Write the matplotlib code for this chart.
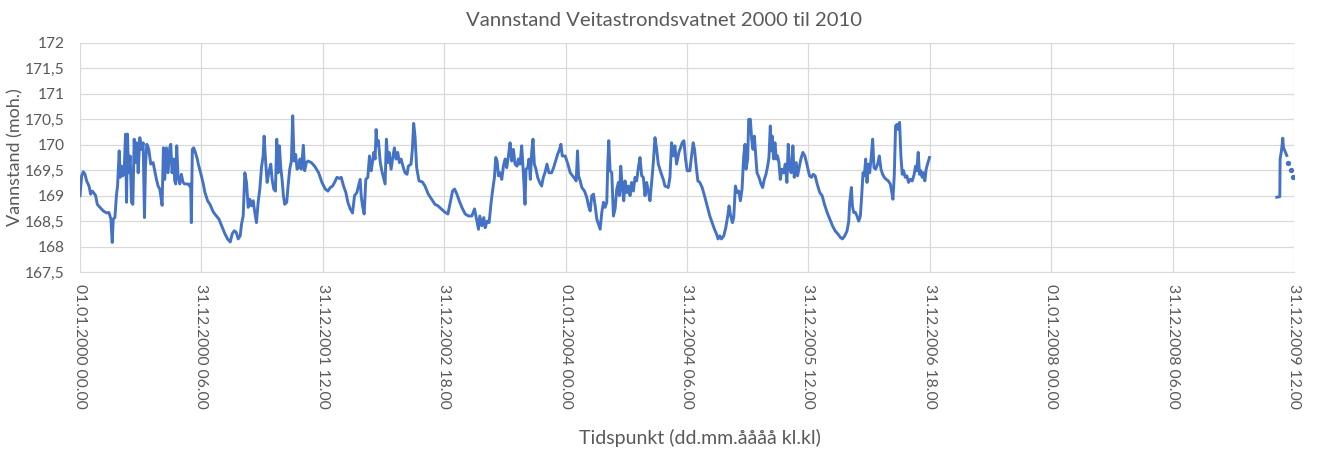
import numpy as np
import pandas as pd
import matplotlib
matplotlib.use("Agg")
import matplotlib.pyplot as plt
from matplotlib.ticker import FuncFormatter

# Vannstand Veitastrondsvatnet, dager etter 01.01.2000 og nivaa i moh.
days_2000_2006 = [
    0, 5, 10, 15, 20, 27, 32, 37, 42, 47, 52, 60, 70, 80, 87, 93, 97, 100, 105, 110,
    113, 118, 121, 125, 129, 133, 137, 140, 143, 146, 151, 155, 159, 163, 167, 171, 175, 180, 185, 190,
    194, 197, 201, 207, 213, 220, 225, 230, 235, 240, 243, 247, 251, 255, 260, 265, 270, 273, 277, 282,
    285, 288, 291, 295, 300, 305, 310, 315, 325, 330, 333, 335, 338, 342, 347, 353,
    356, 364, 371, 376, 384, 391, 401, 408, 418, 426, 436, 444, 452, 458, 464, 470, 476, 482, 486, 491,
    496, 501, 506, 511, 516, 521, 526, 531, 536, 541, 546, 551, 554, 558, 563, 568, 574, 578, 583, 588,
    592, 596, 600, 604, 608, 612, 616, 622, 626, 631, 636, 640, 644, 649, 653, 658, 662, 666, 672, 676,
    681, 686, 696, 706,
    718, 728, 738, 746, 753, 760, 766, 773, 780, 786, 793, 800, 806, 813, 820, 826, 833, 838, 843, 846,
    850, 855, 860, 866, 871, 876, 880, 884, 888, 891, 894, 898, 903, 908, 913, 918, 922, 926, 930, 936,
    941, 946, 951, 956, 961, 966, 973, 978, 984, 988, 996, 1000, 1004, 1008, 1013, 1020, 1030, 1038, 1048, 1058,
    1068,
    1077, 1087, 1097, 1107, 1114, 1121, 1127, 1134, 1141, 1149, 1159, 1169, 1179, 1187, 1193, 1199, 1203, 1209, 1215, 1219,
    1225, 1231, 1237, 1242, 1247, 1251, 1255, 1259, 1264, 1269, 1274, 1279, 1284, 1289, 1294, 1299, 1304, 1309, 1315, 1319,
    1324, 1329, 1334, 1339, 1342, 1347, 1351, 1355, 1359, 1363, 1367, 1372, 1377, 1383, 1389, 1394, 1399, 1405, 1411, 1419,
    1425, 1431, 1437, 1443, 1447, 1451,
    1455, 1460, 1468, 1475, 1482, 1488, 1493, 1497, 1500, 1505, 1510, 1518, 1525, 1530, 1535, 1540, 1545, 1550, 1555, 1560,
    1565, 1570, 1575, 1580, 1585, 1588, 1591, 1595, 1600, 1605, 1610, 1615, 1620, 1623, 1627, 1632, 1636, 1640, 1645, 1650,
    1655, 1660, 1665, 1670, 1675, 1680, 1685, 1690, 1695, 1700, 1705, 1710, 1715, 1720, 1725, 1730, 1735, 1740, 1748, 1755,
    1760, 1770, 1775, 1780, 1785, 1790, 1795, 1802,
    1812, 1817, 1822, 1827, 1835, 1840, 1845, 1849, 1854, 1859, 1865, 1872, 1879, 1887, 1895, 1902, 1909, 1915, 1920, 1925,
    1930, 1937, 1943, 1949, 1953, 1957, 1963, 1967, 1972, 1977, 1982, 1987, 1992, 1997, 2001, 2004, 2009, 2012, 2017, 2021,
    2025, 2029, 2033, 2037, 2043, 2049, 2054, 2059, 2064, 2069, 2073, 2077, 2080, 2083, 2087, 2091, 2095, 2099, 2103, 2107,
    2112, 2117, 2122, 2127, 2131, 2135, 2140, 2145, 2149, 2155, 2159, 2164, 2169, 2175, 2181, 2187, 2195,
    2201, 2206, 2212, 2218, 2226, 2233, 2240, 2248, 2256, 2264, 2272, 2280, 2288, 2294, 2301, 2308, 2313, 2316, 2321, 2324,
    2328, 2333, 2338, 2343, 2348, 2352, 2356, 2360, 2364, 2368, 2372, 2376, 2381, 2385, 2389, 2394, 2400, 2405, 2410, 2415,
    2420, 2426, 2432, 2438, 2442, 2446, 2450, 2454, 2458, 2462, 2466, 2470, 2474, 2478, 2483, 2488, 2493, 2498, 2504, 2510,
    2514, 2518, 2522, 2526, 2530, 2534, 2538, 2542, 2546, 2550, 2556,
]
level_2000_2006 = [
    169.00, 169.39, 169.47, 169.42, 169.29, 169.19, 169.03, 169.09, 169.05, 169.00, 168.83, 168.77, 168.70, 168.66, 168.67, 168.54, 168.08, 168.54, 168.57, 169.03,
    169.19, 169.88, 169.36, 169.58, 169.39, 169.49, 170.21, 168.87, 170.21, 169.45, 169.78, 168.87, 168.83, 170.11, 169.65, 170.04, 169.45, 170.14, 169.91, 170.04,
    168.57, 169.58, 170.01, 169.91, 169.62, 169.65, 169.49, 169.32, 169.19, 169.13, 169.00, 168.81, 169.94, 169.32, 169.94, 169.45, 169.94, 170.01, 169.45, 169.72,
    169.29, 169.23, 169.98, 169.39, 169.23, 169.42, 169.26, 169.23, 169.23, 169.19, 169.23, 168.47, 169.91, 169.94, 169.85, 169.72,
    169.62, 169.42, 169.23, 169.06, 168.90, 168.83, 168.68, 168.62, 168.54, 168.41, 168.25, 168.15, 168.09, 168.25, 168.31, 168.28, 168.15, 168.21, 168.44, 168.60,
    169.45, 169.26, 168.77, 168.93, 168.80, 168.90, 168.67, 168.47, 168.87, 169.13, 169.55, 169.78, 170.17, 169.72, 169.26, 169.45, 169.62, 169.32, 169.13, 169.09,
    170.11, 169.45, 169.98, 169.55, 169.32, 169.00, 168.83, 168.87, 169.19, 169.52, 169.68, 170.57, 169.68, 169.81, 169.52, 169.55, 169.72, 169.52, 169.99, 169.49,
    169.65, 169.68, 169.65, 169.58,
    169.45, 169.26, 169.13, 169.09, 169.16, 169.19, 169.26, 169.36, 169.34, 169.36, 169.19, 169.06, 168.87, 168.74, 168.66, 169.00, 169.06, 169.19, 169.32, 169.00,
    168.80, 168.64, 169.32, 169.36, 169.78, 169.49, 169.65, 169.85, 169.72, 170.30, 169.98, 170.08, 169.68, 169.49, 169.36, 169.23, 170.11, 169.65, 169.85, 169.52,
    169.75, 169.94, 169.72, 169.85, 169.65, 169.72, 169.55, 169.45, 169.42, 169.58, 169.62, 169.91, 170.42, 170.17, 169.55, 169.29, 169.27, 169.19, 169.03, 168.93,
    168.83,
    168.80, 168.74, 168.68, 168.64, 168.87, 169.09, 169.13, 169.03, 168.90, 168.77, 168.64, 168.60, 168.60, 168.74, 168.54, 168.34, 168.60, 168.41, 168.57, 168.37,
    168.50, 168.47, 168.87, 169.13, 169.36, 169.75, 169.68, 169.39, 169.45, 169.32, 169.58, 169.72, 169.55, 169.78, 170.04, 169.68, 169.91, 169.62, 169.58, 169.72,
    169.62, 169.98, 169.45, 168.83, 169.52, 169.55, 169.72, 169.32, 169.85, 170.11, 169.62, 169.52, 169.36, 169.26, 169.19, 169.36, 169.45, 169.62, 169.45, 169.45,
    169.55, 169.68, 169.81, 169.91, 170.01, 169.78,
    169.78, 169.78, 169.62, 169.45, 169.39, 169.34, 169.29, 169.88, 169.39, 169.29, 169.16, 169.09, 168.96, 168.80, 168.70, 169.00, 169.03, 168.80, 168.54, 168.44,
    168.34, 168.67, 168.87, 168.77, 168.87, 169.62, 170.08, 169.49, 169.45, 168.60, 168.74, 169.13, 169.26, 169.00, 169.58, 169.13, 168.90, 169.29, 169.06, 169.19,
    169.00, 169.26, 169.09, 169.36, 169.29, 169.55, 169.75, 169.39, 169.36, 169.00, 169.26, 169.09, 168.90, 169.26, 169.65, 170.14, 169.91, 169.62, 169.45, 169.32,
    169.19, 169.16, 169.36, 170.04, 169.78, 169.98, 169.62, 169.85,
    170.04, 170.08, 169.72, 169.49, 169.49, 169.78, 170.04, 169.91, 169.58, 169.29, 169.26, 169.16, 169.00, 168.80, 168.60, 168.47, 168.34, 168.25, 168.15, 168.21,
    168.15, 168.21, 168.37, 168.60, 168.80, 168.63, 168.47, 168.57, 169.19, 169.06, 169.09, 168.90, 169.13, 169.78, 170.01, 169.52, 169.72, 170.50, 170.50, 170.11,
    169.91, 170.17, 169.81, 169.45, 169.36, 169.23, 169.16, 169.32, 169.42, 169.58, 169.75, 170.37, 169.88, 170.17, 169.72, 170.04, 169.72, 169.78, 169.65, 169.32,
    169.52, 169.45, 169.62, 169.26, 170.01, 169.52, 169.45, 169.98, 169.36, 169.65, 169.39, 169.55, 169.72, 169.85, 169.78, 169.62, 169.39,
    169.36, 169.42, 169.39, 169.23, 169.06, 169.00, 168.83, 168.67, 168.54, 168.41, 168.31, 168.25, 168.18, 168.15, 168.21, 168.31, 168.50, 168.87, 169.16, 168.80,
    168.67, 168.67, 168.60, 168.50, 168.60, 169.00, 169.45, 169.39, 169.72, 169.26, 169.62, 169.45, 169.78, 170.11, 169.55, 169.52, 169.62, 169.78, 169.52, 169.42,
    169.36, 169.32, 169.29, 169.23, 169.09, 168.93, 169.39, 170.37, 170.40, 170.30, 170.44, 169.78, 169.42, 169.49, 169.36, 169.39, 169.26, 169.32, 169.29, 169.42,
    169.58, 169.49, 169.85, 169.42, 169.49, 169.36, 169.45, 169.29, 169.52, 169.62, 169.75,
]

# slutten av 2009: sammenhengende maalinger og enkeltpunkter
days_2009 = [3601, 3610, 3611, 3615, 3619, 3621, 3624, 3631]
level_2009 = [168.97, 168.98, 169.72, 169.88, 170.13, 169.95, 169.90, 169.79]
days_2009_pts = [3635, 3643, 3650]
level_2009_pts = [169.65, 169.50, 169.37]

start = pd.Timestamp("2000-01-01")
to_dates = lambda d: start + pd.to_timedelta(np.array(d, dtype=float), unit="D")

blue = "#4472C4"
grey = "#595959"
plt.rcParams["font.family"] = ["Lato", "DejaVu Sans"]

fig = plt.figure(figsize=(13.28, 4.5), dpi=100)
ax = fig.add_axes([80 / 1328, 1 - 272 / 450, 1214 / 1328, 229 / 450])

ax.plot(to_dates(days_2000_2006), level_2000_2006, color=blue, lw=2.1, solid_joinstyle="round")
ax.plot(to_dates(days_2009), level_2009, color=blue, lw=2.1)
ax.plot(to_dates(days_2009_pts), level_2009_pts, ls="none", marker="o", ms=2.8, color=blue)

ax.set_ylim(167.5, 172)
ax.set_yticks(np.arange(167.5, 172.01, 0.5))
ax.yaxis.set_major_formatter(FuncFormatter(lambda v, p: f"{v:g}".replace(".", ",")))

# tidsakse med merker hvert 365,25 dogn
ticks = [start + pd.Timedelta(days=365.25 * k) for k in range(11)]
ax.set_xlim(start, ticks[-1] + pd.Timedelta(hours=6))
ax.set_xticks(ticks)
ax.set_xticklabels([t.strftime("%d.%m.%Y %H.%M") for t in ticks], rotation=-90,
                   va="top", ha="center", fontsize=11.3, color=grey)
ax.tick_params(axis="y", labelsize=11.2, labelcolor=grey, length=0, pad=11)
ax.tick_params(axis="x", length=0, pad=9)

ax.grid(True, color="#D9D9D9", lw=0.9)
ax.set_axisbelow(True)
for side in ["top", "right", "left"]:
    ax.spines[side].set_visible(False)
ax.spines["bottom"].set_color("#D9D9D9")

# tittelen sentreres paa hele figuren
fig.text(0.5, 1 - 20 / 450, "Vannstand Veitastrondsvatnet 2000 til 2010",
         fontsize=14.6, color=grey, ha="center", va="center")
ax.set_ylabel("Vannstand (moh.)", fontsize=13, color=grey)
ax.yaxis.set_label_coords(-65 / 1214, 0.5)
ax.set_xlabel("Tidspunkt (dd.mm.åååå kl.kl)", fontsize=14, color=grey)
ax.xaxis.set_label_coords((700 - 80) / 1214, -(438 - 272) / 229)
ax.xaxis.label.set_va("center")
ax.yaxis.label.set_va("center")

plt.savefig("out.png", dpi=100)
